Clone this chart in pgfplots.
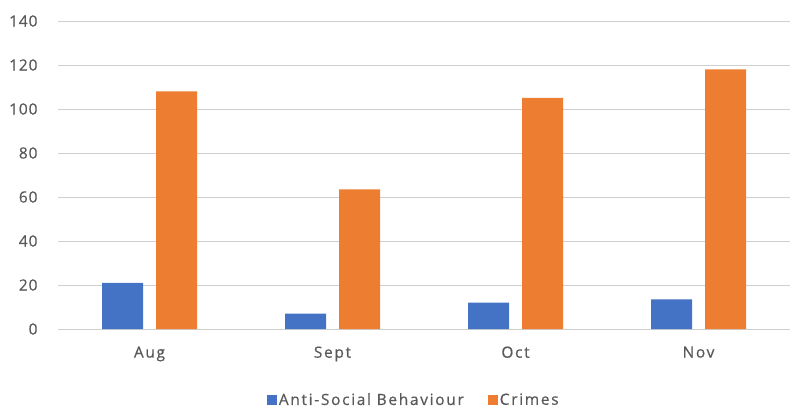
\documentclass[border=0pt]{standalone}
\usepackage{pgfplots}
\pgfplotsset{compat=1.18}
\usepackage{fontspec}
\setmainfont{Open Sans}[LetterSpace=6, FakeBold=0.6]
\newfontfamily\widefont{Open Sans}[LetterSpace=11, FakeBold=0.6]
\definecolor{asbblue}{HTML}{4472C4}
\definecolor{crimeorange}{HTML}{ED7D31}
\definecolor{ticktext}{HTML}{595959}
\definecolor{gridgray}{HTML}{CFCFCF}
\begin{document}
\begin{tikzpicture}
\path[use as bounding box] (-58bp,-79bp) rectangle (734bp,329bp);
\begin{axis}[
    scale only axis,
    width=732bp,
    height=308bp,
    xmin=-0.5, xmax=3.5,
    ymin=0, ymax=140,
    ytick={0,20,...,140},
    xtick=data,
    xticklabels={Aug,Sept,Oct,Nov},
    ybar,
    bar width=41bp,
    axis line style={draw=none},
    major tick length=0pt,
    ymajorgrids,
    grid style={gridgray, line width=1pt},
    /pgf/number format/assume math mode=true,
    tick label style={font=\fontsize{15.5}{18}\selectfont, text=ticktext},
    yticklabel style={xshift=-17bp},
    xticklabel style={yshift=-14bp, font=\widefont\fontsize{15.5}{18}\selectfont},
    legend style={at={(0.486,-0.23)}, anchor=center, draw=none, fill=none,
        legend columns=2, font=\widefont\fontsize{15.5}{18}\selectfont, text=ticktext,
        /tikz/every even column/.append style={column sep=22bp}},
    legend image code/.code={\fill[#1] (0bp,-5bp) rectangle (10bp,5bp);},
]
\addplot[fill=asbblue, draw=none, bar shift=-27bp] coordinates {
    (0,21) (1,7) (2,12) (3,13.5)
};
\addplot[fill=crimeorange, draw=none, bar shift=27bp] coordinates {
    (0,108) (1,63.5) (2,105) (3,118)
};
\legend{Anti-Social Behaviour, Crimes}
\end{axis}
\end{tikzpicture}
\end{document}
